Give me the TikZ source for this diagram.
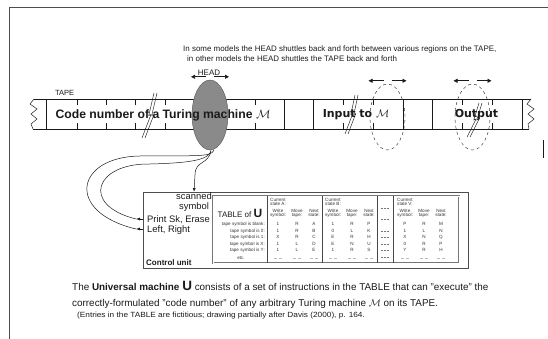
\documentclass[tikz,border=0pt]{standalone}
\usepackage{fontspec}
\setmainfont{Liberation Sans}
\newfontfamily\wideface{DejaVu Sans}
\usetikzlibrary{arrows.meta,calc,positioning,shapes.geometric}
\definecolor{Ink}{HTML}{1A1A1A}
\definecolor{Frame}{HTML}{4D4D4D}
\definecolor{HeadGray}{HTML}{8A8A8A}
\definecolor{TblGray}{HTML}{777777}

% two parallel lightning strokes marking a break in the tape
\newcommand{\tapebreak}[4]{% x left, y top, y bottom, width
  \foreach \o in {0,3}
    \draw[Ink,line width=.45pt] ({#1+#4-3+\o},#2) -- ({#1+0.45*#4+\o},{(#2+#3)/2})
      -- ({#1+0.6*#4+\o},{(#2+#3)/2-1}) -- ({#1+\o},#3);
}

\begin{document}
\begin{tikzpicture}[x=1pt,y=-1pt,
    every node/.style={inner sep=0pt,text=Ink},
    tapetxt/.style={font=\fontsize{12.2}{13}\selectfont\bfseries},
    widetxt/.style={font=\wideface\fontsize{11}{12}\selectfont\bfseries},
    note/.style={font=\fontsize{7.95}{9}\selectfont},
    cu/.style={font=\fontsize{9.4}{10.5}\selectfont},
    tbl/.style={font=\fontsize{4.6}{5}\selectfont,text=black!80},
    shuttle/.style={-{Triangle[length=4pt,width=4pt]},Ink,line width=.6pt},
    wire/.style={Ink,line width=.5pt}]
  \useasboundingbox (0,0) rectangle (548,339);
  \draw[Frame,line width=.7pt] (9,339) -- (9,7) -- (548,7);

  % tape
  \draw[Ink,line width=.5pt] (34,99) -- (531,99) (33,129) -- (529,129);
  \draw[Ink,line width=.5pt] (34,99) -- (30,104) -- (37,109) -- (31,114)
    -- (37,119) -- (31,124) -- (33,129);
  \draw[Ink,line width=.5pt] (531,99) -- (527,104) -- (534,109) -- (528,114)
    -- (534,119) -- (528,124) -- (529,129);
  \foreach \x in {46,284,313,403,432,522}
    \draw[Ink,line width=.45pt] (\x,99) -- (\x,129);
  \foreach \x in {77,106,135,165,194,225,255,343,373,462,492}
    \draw[Ink,line width=.45pt] (\x,99) -- ++(0,6) (\x,129) -- ++(0,-6);
  \node[anchor=west,font=\fontsize{7.5}{8}\selectfont] (tapelbl) at (55,93) {TAPE};

  % head and the other positions
  \node[ellipse,draw=HeadGray!60!black,fill=HeadGray,minimum width=36,
    minimum height=70] (head) at (210,115) {};
  \node[ellipse,draw=Ink,dashed,minimum width=35,minimum height=66] (inp) at (387.5,117) {};
  \node[ellipse,draw=Ink,dashed,minimum width=35,minimum height=66] (outp) at (472.5,117) {};
  \foreach \e in {head,inp,outp}
    {
      \draw[shuttle] ($(\e.north)+(-4,-3)$) -- ++(-15,0);
      \draw[shuttle] ($(\e.north)+(4,-3)$) -- ++(15,0);
    }
  \node[font=\fontsize{8}{9}\selectfont] (headlbl) at (209,73) {HEAD};

  \tapebreak{142}{93}{138}{15}
  \tapebreak{345}{95}{134}{13}
  \tapebreak{467}{103}{137}{15}

  \node[tapetxt] (code) at (163,115) {Code number of a Turing machine $\mathcal{M}$};
  \node[widetxt] (input) at (356,115) {Input to $\mathcal{M}$};
  \node[widetxt] (output) at (476.5,115) {Output};

  \node[note,anchor=west] (note1) at (183,49)
    {In some models the HEAD shuttles back and forth between various regions on the TAPE,};
  \node[note,anchor=west] (note2) at (187,59)
    {in other models the HEAD shuttles the TAPE back and forth};

  % control unit
  \node[draw=Frame,line width=.8pt,minimum width=325,minimum height=76] (ctrl) at (305.5,230) {};
  \node[cu,align=center] (scan) at (194,202) {scanned\\symbol};
  \node[cu,anchor=west] (print) at (147,220) {Print Sk, Erase};
  \node[cu,anchor=west] (leftright) at (147,230) {Left, Right};
  \node[anchor=west,font=\fontsize{8}{9}\selectfont\bfseries] (ctrllbl) at (146,263) {Control unit};

  \coordinate (pk) at (136,219);
  \coordinate (lr) at (136,229);
  \draw[wire,-{Latex[length=3.5pt,width=3pt]}] ($(head.south)+(1,0)$)
    .. controls (209,165) and (195,160) .. (195,175) -- (scan.north |- ctrl.north);
  \draw[wire] ($(head.south)+(1,1)$) .. controls (208,160) and (190,163) .. (150,164)
    .. controls (95,163) and (80,205) .. (pk);
  \draw[wire] ($(head.south)+(4,0)$) .. controls (211,158) and (190,155) .. (140,156)
    .. controls (75,157) and (65,212) .. (lr);
  \draw[wire,-{Latex[length=4pt,width=3pt]}] (ctrl.west |- pk) -- (pk);
  \draw[wire,-{Latex[length=4pt,width=3pt]}] (ctrl.west |- lr) -- (lr);

  % table of U
  \node[draw=TblGray,double=white,double distance=.7pt,line width=.5pt,
    minimum width=246,minimum height=67] (table) at (336,229.5) {};
  \foreach \x in {267,322,377,393}
    \draw[TblGray!60!black,line width=.4pt] (\x,196) -- (\x,263);
  \node[font=\fontsize{8}{9}\selectfont] (tbltitle) at (240,213)
    {TABLE of {\fontsize{12}{12}\selectfont\bfseries U}};
  \foreach \y/\t in {224/blank,231/0,237.5/1,244/X,250.5/Y}
    \node[tbl,anchor=east] at (265,\y) {tape symbol is \t:};
  \node[tbl] (etc) at (241,258) {etc.};

  \foreach \bx/\s/\rows in {
    278/A/{1/R/A,1/R/B,X/R/C,1/L/D,1/L/E},
    333/B/{1/R/P,0/L/K,E/R/H,E/N/U,1/R/S},
    405/V/{P/R/M,1/L/N,X/N/Q,0/R/P,Y/R/H}}
    {
      \node[tbl,anchor=west] at (\bx-8,199.5) {Current};
      \node[tbl,anchor=west] at (\bx-8,204) {state \s:};
      \node[tbl] at (\bx,210.5) {Write};
      \node[tbl] at (\bx,215) {symbol:};
      \node[tbl] at (\bx+19,210.5) {Move};
      \node[tbl] at (\bx+19,215) {tape:};
      \node[tbl] at (\bx+36,210.5) {Next};
      \node[tbl] at (\bx+36,215) {state:};
      \foreach \w/\m/\n [count=\i] in \rows
        {
          \node[tbl] at (\bx,{217.5+6.5*\i}) {\w};
          \node[tbl] at (\bx+19,{217.5+6.5*\i}) {\m};
          \node[tbl] at (\bx+36,{217.5+6.5*\i}) {\n};
        }
      \foreach \d in {0,19,36}
        \draw[TblGray!50,densely dashed,line width=.4pt] (\bx+\d-4,258) -- (\bx+\d+4,258);
    }
  \foreach \y in {208,219,231,237.5,244,250.5,257}
    \draw[TblGray,densely dotted,line width=.4pt] (381,\y) -- (389,\y);

  % caption
  \node[anchor=west,font=\fontsize{9.9}{11}\selectfont] (desc1) at (72,286)
    {The \textbf{Universal machine} {\fontsize{13.5}{13}\selectfont\bfseries U} consists of a set of instructions in the TABLE that can "execute" the};
  \node[anchor=west,font=\fontsize{9.9}{11}\selectfont] (desc2) at (72,304)
    {correctly-formulated "code number" of any arbitrary Turing machine $\mathcal{M}$ on its TAPE.};
  \node[anchor=west,font=\fontsize{7.5}{8}\selectfont] (desc3) at (77,316)
    {\scalebox{1.1}[1]{(Entries in the TABLE are fictitious; drawing partially after Davis (2000), p. 164.}};

  \draw[Ink,line width=.6pt] (543,140) -- (543,158);
\end{tikzpicture}
\end{document}
